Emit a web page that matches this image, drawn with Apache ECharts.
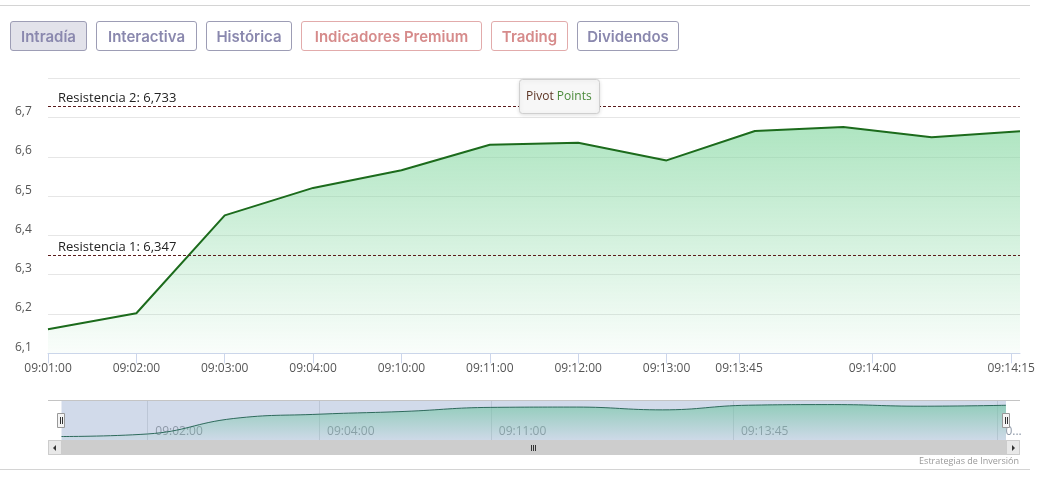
<!DOCTYPE html>
<html>
<head>
<meta charset="utf-8">
<script src="https://cdn.jsdelivr.net/npm/echarts@6/dist/echarts.min.js"></script>
<style>
  html, body { margin: 0; padding: 0; background: #ffffff; }
  #wrap { position: relative; width: 1039px; height: 478px; overflow: hidden; }
  #chart { position: absolute; left: 0; top: 0; width: 1039px; height: 478px; }
  .rule { position: absolute; left: 0; width: 1030px; height: 1px; background: #d4d4d4; }
  #tabs { position: absolute; left: 10px; top: 21px; display: flex; z-index: 2; }
  .tab {
    box-sizing: border-box; height: 30px; margin-right: 9px; border-radius: 3px;
    font-family: "Inter", "Lato", sans-serif; font-weight: 600; font-size: 15px;
    line-height: 30px; text-align: center; background: #ffffff;
    border: 1px solid #9d9db5; color: #8a88ae;
  }
  .tab.on { background: #e2e2ea; }
  .tab.red { border-color: #e2abab; color: #d68b8b; }
</style>
</head>
<body>
<div id="wrap">
  <div class="rule" style="top:5px"></div>
  <div class="rule" style="top:469px"></div>
  <div id="tabs">
    <div class="tab on" style="width:77px">Intradía</div>
    <div class="tab" style="width:101px">Interactiva</div>
    <div class="tab" style="width:86px">Histórica</div>
    <div class="tab red" style="width:181px">Indicadores Premium</div>
    <div class="tab red" style="width:77px">Trading</div>
    <div class="tab" style="width:102px">Dividendos</div>
  </div>
  <div id="chart"></div>
</div>
<script>
// Intraday quotes, one per trading print (ordinal positions on the x axis)
const prices = [6.161, 6.202, 6.451, 6.521, 6.566, 6.631, 6.636, 6.591, 6.666, 6.676, 6.650, 6.665];

// Time labels and where they fall on the ordinal axis
const timeLabels = ['09:01:00', '09:02:00', '09:03:00', '09:04:00', '09:10:00', '09:11:00',
                    '09:12:00', '09:13:00', '09:13:45', '09:14:00', '09:14:15'];
const timePositions = [0, 1, 2, 3, 4, 5, 6, 7, 7.82, 9.33, 10.9];

// Navigator shows every other time label
const navLabels = ['09:02:00', '09:04:00', '09:11:00', '09:13:45', '09:14:15'];
const navPositions = [1, 3, 5, 7.82, 10.9];

// Pivot resistance levels
const resistanceNames = ['Resistencia 2', 'Resistencia 1'];
const resistanceValues = [6.733, 6.347];

const FONT = '"Open Sans", "DejaVu Sans", sans-serif';
const lastIndex = prices.length - 1;
const points = prices.map((v, i) => [i, v]);
const fmtComma = (v, d) => v.toFixed(d).replace('.', ',');

const chart = echarts.init(document.getElementById('chart'), null, { renderer: 'canvas' });

chart.setOption({
  animation: false,
  backgroundColor: 'transparent',
  textStyle: { fontFamily: FONT },
  title: {
    left: 519, top: 79,
    text: '{a|Pivot} {b|Points}',
    padding: [12, 8, 11, 7],
    backgroundColor: '#f7f7f7',
    borderColor: '#cfcfcf',
    borderWidth: 1,
    borderRadius: 3,
    shadowBlur: 4,
    shadowOffsetY: 1,
    shadowColor: 'rgba(0,0,0,0.12)',
    textStyle: {
      fontSize: 12, fontWeight: 'normal', fontFamily: FONT,
      rich: {
        a: { color: '#5c3424', fontSize: 12, fontFamily: FONT },
        b: { color: '#4a8a3a', fontSize: 12, fontFamily: FONT }
      }
    }
  },
  grid: [
    { left: 48, right: 19, top: 78.3, bottom: 124.7 },
    { left: 61.5, right: 33, top: 400, height: 40, show: true,
      backgroundColor: '#d1daea', borderWidth: 0 }
  ],
  xAxis: [
    {
      gridIndex: 0, type: 'value', min: 0, max: lastIndex,
      axisLine: { lineStyle: { color: '#ccd6eb', width: 1 } },
      axisTick: { show: true, length: 10, customValues: timePositions,
                  lineStyle: { color: '#ccd6eb' } },
      axisLabel: {
        customValues: timePositions,
        color: '#555555', fontSize: 12, fontFamily: FONT, margin: 9,
        formatter: v => timeLabels[timePositions.indexOf(v)] || ''
      },
      splitLine: { show: false }
    },
    {
      gridIndex: 1, type: 'value', min: 0, max: lastIndex,
      axisLine: { show: false },
      axisTick: { show: true, inside: true, length: 40, customValues: navPositions,
                  lineStyle: { color: '#bcc6d6' } },
      axisLabel: {
        customValues: navPositions, inside: true, margin: 8,
        align: 'left', verticalAlign: 'middle', padding: [0, 0, 0, 8],
        color: '#8e99a8', fontSize: 12, fontFamily: FONT,
        formatter: v => {
          const t = navLabels[navPositions.indexOf(v)] || '';
          return v > lastIndex - 0.5 ? t.charAt(0) + '...' : t;
        }
      },
      splitLine: { show: false }
    }
  ],
  yAxis: [
    {
      gridIndex: 0, type: 'value', min: 6.1, max: 6.8, interval: 0.1,
      axisLine: { show: false }, axisTick: { show: false },
      axisLabel: {
        showMaxLabel: false, align: 'left', margin: 33,
        verticalAlign: 'bottom', lineHeight: 12,
        color: '#555555', fontSize: 12, fontFamily: FONT,
        formatter: v => fmtComma(v, 1)
      },
      splitLine: { lineStyle: { color: '#e6e6e6', width: 1 } }
    },
    {
      gridIndex: 1, type: 'value', min: 6.105, max: 6.75,
      show: false, splitLine: { show: false }
    }
  ],
  series: [
    {
      type: 'line', xAxisIndex: 0, yAxisIndex: 0,
      data: points, symbol: 'none', smooth: false,
      lineStyle: { color: '#1c6b1c', width: 2 },
      areaStyle: {
        color: new echarts.graphic.LinearGradient(0, 0, 0, 1, [
          { offset: 0, color: 'rgba(134,216,162,0.95)' },
          { offset: 1, color: 'rgba(134,216,162,0.06)' }
        ])
      },
      markLine: {
        silent: true, symbol: 'none',
        lineStyle: { color: '#5a1c1c', type: [3, 2], width: 1 },
        label: {
          position: 'insideStartTop', distance: [10, 1],
          color: '#222222', fontSize: 13, fontFamily: FONT
        },
        data: resistanceValues.map((v, i) => ({
          yAxis: v,
          label: { formatter: resistanceNames[i] + ': ' + fmtComma(v, 3) }
        }))
      }
    },
    {
      type: 'line', xAxisIndex: 1, yAxisIndex: 1,
      data: points, symbol: 'none', smooth: 0.45,
      lineStyle: { color: '#2e6a5c', width: 1 },
      areaStyle: {
        color: new echarts.graphic.LinearGradient(0, 0, 0, 1, [
          { offset: 0, color: 'rgba(110,196,160,0.9)' },
          { offset: 1, color: 'rgba(110,196,160,0.05)' }
        ])
      }
    }
  ],
  graphic: [
    // navigator outline
    { type: 'line', shape: { x1: 48, y1: 400.5, x2: 1020, y2: 400.5 },
      style: { stroke: '#c4c4c4', lineWidth: 1 }, z: 10 },
    // scrollbar track
    { type: 'rect', shape: { x: 48, y: 440, width: 972, height: 15 },
      style: { fill: '#cdcdcd' }, z: 10 },
    { type: 'rect', shape: { x: 48.5, y: 440.5, width: 13, height: 14 },
      style: { fill: '#e8e8e8', stroke: '#cccccc', lineWidth: 1 }, z: 11 },
    { type: 'polygon', shape: { points: [[56, 445], [56, 451], [53, 448]] },
      style: { fill: '#333333' }, z: 12 },
    { type: 'rect', shape: { x: 1006.5, y: 440.5, width: 13, height: 14 },
      style: { fill: '#e8e8e8', stroke: '#cccccc', lineWidth: 1 }, z: 11 },
    { type: 'polygon', shape: { points: [[1012, 445], [1012, 451], [1015, 448]] },
      style: { fill: '#333333' }, z: 12 },
    // scrollbar grip
    { type: 'line', shape: { x1: 531.5, y1: 445, x2: 531.5, y2: 451 }, style: { stroke: '#333', lineWidth: 1 }, z: 12 },
    { type: 'line', shape: { x1: 533.5, y1: 445, x2: 533.5, y2: 451 }, style: { stroke: '#333', lineWidth: 1 }, z: 12 },
    { type: 'line', shape: { x1: 535.5, y1: 445, x2: 535.5, y2: 451 }, style: { stroke: '#333', lineWidth: 1 }, z: 12 },
    // navigator handles
    { type: 'rect', shape: { x: 57.5, y: 413.5, width: 7, height: 14 },
      style: { fill: '#f4f4f4', stroke: '#999999', lineWidth: 1 }, z: 13 },
    { type: 'line', shape: { x1: 60.5, y1: 417, x2: 60.5, y2: 424 }, style: { stroke: '#333', lineWidth: 1 }, z: 14 },
    { type: 'line', shape: { x1: 62.5, y1: 417, x2: 62.5, y2: 424 }, style: { stroke: '#333', lineWidth: 1 }, z: 14 },
    { type: 'rect', shape: { x: 1002.5, y: 413.5, width: 7, height: 14 },
      style: { fill: '#f4f4f4', stroke: '#999999', lineWidth: 1 }, z: 13 },
    { type: 'line', shape: { x1: 1005.5, y1: 417, x2: 1005.5, y2: 424 }, style: { stroke: '#333', lineWidth: 1 }, z: 14 },
    { type: 'line', shape: { x1: 1007.5, y1: 417, x2: 1007.5, y2: 424 }, style: { stroke: '#333', lineWidth: 1 }, z: 14 },
    // credits
    { type: 'text', x: 1019, y: 461,
      style: { text: 'Estrategias de Inversión', fill: '#999999', font: '9px ' + FONT,
               textAlign: 'right', textVerticalAlign: 'middle' }, z: 10 }
  ]
});
</script>
</body>
</html>
